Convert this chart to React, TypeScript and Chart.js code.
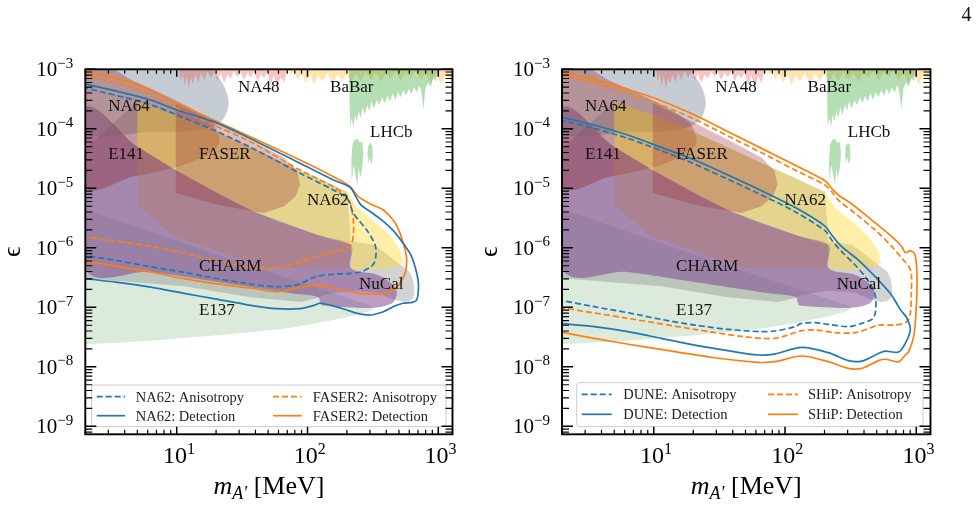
import React, { useEffect, useRef } from 'react';
import { Chart, registerables } from 'chart.js';

Chart.register(...registerables);

type Pt = [number, number];

const SERIF = '"Liberation Serif", "DejaVu Serif", serif';
const BLUE = '#1f77b4';
const ORANGE = '#ff7f0e';

// Axis limits: dark photon mass m_A' [MeV] and kinetic mixing epsilon
const MASS_MIN = 2;
const MASS_MAX = 1284;
const EPS_MIN = 7.35e-10;
const EPS_MAX = 1e-3;
const MASS_DECADES = [1, 2, 3];
const EPS_DECADES = [-9, -8, -7, -6, -5, -4, -3];

// ---- existing exclusion regions [mass MeV, epsilon] ----
const E137_REGION: Pt[] = [
  [1.9, 4.67e-6], [20.5, 7.67e-7], [119, 2.11e-7], [290, 1.1e-7], [323, 1.0e-7], [304, 8.78e-8],
  [214, 7.05e-8], [160, 6.2e-8], [119, 5.45e-8], [66.2, 4.38e-8], [36.8, 3.85e-8], [20.5, 3.38e-8],
  [11.4, 3.05e-8], [6.33, 2.75e-8], [3.5, 2.55e-8], [1.9, 2.38e-8],
];
const NUCAL_REGION: Pt[] = [
  [1.9, 4.18e-5], [5.0, 2.89e-4], [11.4, 1.52e-4], [27.4, 6.57e-5], [66.2, 2.66e-5], [119, 1.49e-5],
  [202, 8.67e-6], [214, 1.285e-6], [323, 1.13e-6], [459, 6.32e-7], [597, 4.02e-7], [633, 3.19e-7],
  [652, 2.4e-7], [656, 1.86e-7], [645, 1.43e-7], [597, 1.26e-7], [547, 1.23e-7], [433, 1.4e-7],
  [342, 1.76e-7], [214, 1.9e-7], [134, 1.63e-7], [119, 1.43e-7], [88.7, 1.23e-7], [36.8, 1.47e-7],
  [11.4, 2.25e-7], [1.9, 3.11e-7],
];
const CHARM_REGION: Pt[] = [
  [1.9, 1.97e-4], [5.0, 5.0e-5], [11.4, 1.69e-5], [36.8, 4.32e-6], [119, 1.66e-6], [214, 1.129e-6],
  [214, 4.58e-7], [342, 3.54e-7], [433, 2.56e-7], [481, 1.86e-7], [459, 1.26e-7], [396, 1.066e-7],
  [287, 9.74e-8], [138, 1.052e-7], [125, 1.213e-7], [115.5, 1.53e-7], [66.2, 1.79e-7], [20.5, 2.66e-7],
  [6.33, 3.92e-7], [1.9, 5.21e-7],
];
const E141_REGION: Pt[] = [
  [1.9, 1.36e-3], [4.72, 6.28e-4], [11.4, 2.54e-4], [18.2, 1.334e-4], [21.1, 7.0e-5], [19.3, 4.46e-5],
  [11.4, 2.5e-5], [4.72, 1.59e-5], [1.9, 1.23e-5],
];
const NA64_REGION: Pt[] = [
  [1.9, 1.36e-3], [13.6, 1.36e-3], [20.5, 7.61e-4], [24.7, 3.29e-4], [23.7, 1.73e-4], [19.9, 1.143e-4],
  [13.6, 9.3e-5], [6.33, 8.84e-5], [1.9, 9.07e-5],
];
const CHARM_HEAVY_REGION: Pt[] = [
  [5.0, 5.0e-5], [11.4, 1.69e-5], [36.8, 4.32e-6], [119, 1.66e-6], [214, 1.129e-6], [214, 4.58e-7],
  [49.3, 4.58e-7], [9.54, 1.56e-6], [5.0, 5.31e-6],
];
const NA62_REGION: Pt[] = [
  [5.0, 2.89e-4], [11.4, 1.52e-4], [27.4, 6.57e-5], [66.2, 2.66e-5], [119, 1.49e-5], [202, 8.67e-6],
  [241, 4.67e-6], [323, 2.79e-6], [433, 1.56e-6], [516, 8.73e-7], [541, 5.55e-7], [459, 4.58e-7],
  [342, 4.29e-7], [220, 4.29e-7], [214, 1.129e-6], [119, 1.66e-6], [36.8, 4.32e-6], [11.4, 1.69e-5],
  [5.0, 5.0e-5],
];
const FASER_REGION: Pt[] = [
  [9.83, 2.71e-4], [20.5, 1.252e-4], [36.8, 6.57e-5], [66.2, 3.31e-5], [83.6, 1.93e-5], [87.7, 1.151e-5],
  [81.2, 7.33e-6], [66.2, 4.98e-6], [46.5, 3.85e-6], [20.5, 5.31e-6], [9.83, 8.34e-6],
];
const NA48_REGION: Pt[] = [
  [10.4, 1.4e-3], [10.4, 1.05e-3], [10.7, 6.28e-4], [11.1, 8.66e-4], [11.5, 5.17e-4], [11.9, 7.9e-4],
  [12.35, 4.73e-4], [12.8, 7.14e-4], [13.3, 5.66e-4], [13.9, 8.34e-4], [14.6, 6.0e-4], [15.3, 8.8e-4],
  [16.2, 6.61e-4], [17.2, 9.24e-4], [18.2, 7.14e-4], [19.5, 9.01e-4], [20.5, 6.44e-4], [21.7, 8.66e-4],
  [23.0, 5.89e-4], [24.4, 8.13e-4], [25.9, 6.96e-4], [27.4, 9.24e-4], [29.1, 7.52e-4], [30.9, 9.01e-4],
  [32.7, 6.61e-4], [34.7, 8.66e-4], [36.8, 7.33e-4], [39.0, 9.24e-4], [41.4, 6.28e-4], [43.9, 8.34e-4],
  [46.5, 7.14e-4], [49.3, 9.01e-4], [52.3, 5.51e-4], [55.5, 8.13e-4], [58.8, 4.73e-4], [62.4, 7.61e-4],
  [66.2, 5.89e-4], [70.2, 1.05e-3], [70.2, 1.4e-3],
];
const BABAR_REGION: Pt[] = [
  [70.2, 1.4e-3], [70.2, 1.05e-3], [74.4, 8.13e-4], [78.9, 9.24e-4], [84.6, 6.6e-4], [89.8, 8.78e-4],
  [96.9, 5.89e-4], [104.5, 8.34e-4], [112.2, 5.51e-4], [120.4, 7.9e-4], [129.9, 6.28e-4], [141.9, 8.78e-4],
  [155, 5.4e-4], [169.2, 8.34e-4], [184.8, 6.44e-4], [201.8, 9.01e-4], [214, 5.89e-4], [233.7, 8.66e-4],
  [255.1, 6.28e-4], [278.6, 9.01e-4], [304.3, 6.61e-4], [332.2, 8.78e-4], [362.7, 6.1e-4], [396.2, 8.5e-4],
  [432.6, 7.14e-4], [472.4, 9.24e-4], [515.8, 6.44e-4], [563.3, 8.78e-4], [615.1, 7.33e-4], [671.7, 9.24e-4],
  [733.6, 6.6e-4], [801.4, 8.78e-4], [874.9, 5.89e-4], [955.3, 8.34e-4], [1043, 5.66e-4], [1139, 7.9e-4],
  [1244, 6.28e-4], [1358, 8.66e-4], [1358, 1.4e-3],
];
const LHCB_REGION: Pt[] = [
  [207.8, 1.4e-3], [207.8, 1.05e-3], [211.5, 1.1e-4], [217.8, 1.52e-4], [224.2, 1.058e-4], [230.9, 1.73e-4],
  [237.8, 1.334e-4], [246.3, 1.97e-4], [255.1, 1.52e-4], [264.3, 2.3e-4], [273.7, 1.73e-4], [287, 2.48e-4],
  [297.2, 2.02e-4], [307.9, 2.89e-4], [322.6, 2.18e-4], [338.1, 3.05e-4], [354.3, 2.48e-4], [371.5, 3.38e-4],
  [389.3, 2.68e-4], [407.9, 3.56e-4], [427.6, 2.89e-4], [448.1, 3.95e-4], [469.6, 3.05e-4], [492.2, 4.15e-4],
  [515.8, 3.38e-4], [540.6, 4.49e-4], [566.6, 3.56e-4], [593.9, 4.73e-4], [622.4, 3.85e-4], [652.3, 4.97e-4],
  [683.8, 4.05e-4], [716.6, 5.37e-4], [742.1, 4.26e-4], [769.1, 2.12e-4], [796.6, 4.73e-4], [834.9, 6.0e-4],
  [874.9, 5.11e-4], [917, 7.14e-4], [961, 6.28e-4], [995.4, 1.05e-3], [995.4, 1.4e-3],
];
const LHCB_ISLAND_A: Pt[] = [
  [217.8, 1.31e-5], [216.5, 2.84e-5], [220.3, 5.41e-5], [229.6, 6.57e-5], [240.6, 6.83e-5], [252.2, 5.77e-5],
  [262.7, 6.16e-5], [267.4, 3.67e-5], [261.2, 2.19e-5], [253.6, 1.49e-5], [246.3, 2.19e-5], [240.6, 1.151e-5],
  [232.3, 1.69e-5], [225.5, 2.5e-5],
];
const LHCB_ISLAND_B: Pt[] = [
  [290.4, 5.07e-5], [300.8, 5.77e-5], [313.3, 5.27e-5], [315.2, 3.23e-5], [307.9, 2.5e-5], [299, 3.23e-5],
  [292.1, 2.66e-5], [287, 3.67e-5],
];

// ---- projected sensitivity contours ----
const NA62_ANISO: Pt[] = [
  [1.9, 4.97e-4], [3.52, 3.6e-4], [6.33, 2.54e-4], [10.0, 1.71e-4], [19.1, 9.55e-5], [36.8, 4.88e-5],
  [87.7, 1.79e-5], [157.7, 9.36e-6], [201.8, 6.7e-6], [224.2, 3.8e-6], [283.6, 1.99e-6], [328, 1.13e-6],
  [334, 7.67e-7], [322.6, 5.55e-7], [300.8, 4.69e-7], [255.1, 3.92e-7], [211.5, 3.72e-7], [169.2, 3.63e-7],
  [117.6, 3.32e-7], [83.6, 2.4e-7], [58.1, 2.22e-7], [36.8, 2.46e-7], [19.1, 3.11e-7], [11.4, 3.87e-7],
  [6.33, 4.82e-7], [3.52, 6.08e-7], [1.9, 7.57e-7],
];
const NA62_DET: Pt[] = [
  [1.9, 5.81e-4], [3.52, 4.26e-4], [6.33, 3.05e-4], [10.0, 2.07e-4], [19.1, 1.32e-4], [36.8, 6.83e-5],
  [87.7, 2.63e-5], [157.7, 1.38e-5], [211.5, 1.04e-5], [233.7, 7.33e-6], [255.1, 5.31e-6], [304.3, 4.0e-6],
  [380, 2.79e-6], [458.7, 1.89e-6], [537.5, 1.2e-6], [615, 7.67e-7], [664, 4.82e-7], [700, 2.91e-7],
  [704, 1.95e-7], [684, 1.34e-7], [633, 1.21e-7], [537.5, 1.17e-7], [458.7, 1.04e-7], [380, 8.45e-8],
  [300.8, 7.43e-8], [240.6, 7.92e-8], [199.4, 9.02e-8], [159.6, 1.05e-7], [124.7, 1.17e-7], [112.2, 1.08e-7],
  [87.7, 9.49e-8], [58.1, 9.49e-8], [36.8, 1.08e-7], [19.1, 1.4e-7], [11.4, 1.72e-7], [6.33, 2.19e-7],
  [3.52, 2.63e-7], [1.9, 3.08e-7],
];
const FASER2_ANISO: Pt[] = [
  [1.9, 8.02e-4], [4.67, 4.85e-4], [10.0, 2.21e-4], [19.1, 1.16e-4], [36.8, 6.0e-5], [87.7, 2.03e-5],
  [157.7, 1.065e-5], [199.4, 7.23e-6], [214, 5.31e-6], [224.2, 2.93e-6], [224.2, 1.66e-6], [216.5, 1.13e-6],
  [199.4, 9.79e-7], [159.6, 8.5e-7], [124.7, 7.57e-7], [87.7, 5.85e-7], [66.15, 4.82e-7], [46, 4.52e-7],
  [36.8, 4.69e-7], [19.1, 6.24e-7], [11.4, 8.18e-7], [6.33, 1.06e-6], [3.52, 1.285e-6], [1.9, 1.54e-6],
];
const FASER2_DET: Pt[] = [
  [1.9, 9.48e-4], [4.67, 5.81e-4], [10.0, 2.68e-4], [19.1, 1.41e-4], [36.4, 7.38e-5], [87.7, 2.99e-5],
  [157.7, 1.57e-5], [211.5, 1.07e-5], [244.8, 7.23e-6], [304.3, 5.45e-6], [380, 4.32e-6], [458.7, 2.79e-6],
  [510, 1.75e-6], [553, 9.93e-7], [573, 6.24e-7], [557, 3.72e-7], [501, 2.4e-7], [453, 1.95e-7],
  [384.7, 1.72e-7], [283.6, 1.67e-7], [211.5, 1.83e-7], [159.6, 2.11e-7], [117.6, 2.37e-7], [83.6, 2.11e-7],
  [58.1, 1.83e-7], [36.8, 2.11e-7], [19.1, 2.53e-7], [11.4, 3.03e-7], [6.33, 3.92e-7], [3.52, 4.88e-7],
  [1.9, 6.08e-7],
];
const DUNE_ANISO: Pt[] = [
  [1.9, 1.41e-4], [3.52, 1.018e-4], [6.33, 6.92e-5], [11.4, 4.29e-5], [20.5, 2.56e-5], [36.8, 1.414e-5],
  [66.2, 7.72e-6], [119, 4.05e-6], [201.8, 1.94e-6], [226.9, 1.352e-6], [270.5, 8.61e-7], [342.1, 5.14e-7],
  [407.9, 3.27e-7], [472.4, 1.95e-7], [492.2, 1.33e-7], [486.4, 7.92e-8], [458.7, 6.28e-8], [384.7, 5.38e-8],
  [304.3, 4.73e-8], [214, 5.18e-8], [169.2, 5.52e-8], [133.8, 5.38e-8], [119, 4.73e-8], [83.6, 4.0e-8],
  [66.2, 3.9e-8], [36.8, 4.26e-8], [20.5, 5.04e-8], [11.4, 6.28e-8], [6.33, 8.13e-8], [3.52, 1.025e-7],
  [1.9, 1.33e-7],
];
const DUNE_DET: Pt[] = [
  [1.9, 1.6e-4], [3.52, 1.158e-4], [6.33, 7.86e-5], [11.4, 4.88e-5], [20.5, 2.99e-5], [36.8, 1.67e-5],
  [66.2, 9.13e-6], [119, 4.79e-6], [201.8, 2.32e-6], [226.9, 1.64e-6], [270.5, 1.045e-6], [362.7, 6.24e-7],
  [486.4, 3.27e-7], [633.4, 1.72e-7], [755.4, 9.24e-8], [849.9, 6.53e-8], [900.9, 4.16e-8], [825.3, 2.48e-8],
  [733.6, 1.77e-8], [580.1, 1.84e-8], [515.8, 1.68e-8], [384.7, 1.25e-8], [304.3, 1.27e-8], [214, 1.73e-8],
  [133.8, 2.12e-8], [83.6, 1.64e-8], [62.4, 1.58e-8], [36.8, 1.87e-8], [20.5, 2.32e-8], [11.4, 3.01e-8],
  [6.33, 3.9e-8], [3.52, 4.73e-8], [1.9, 5.38e-8],
];
const SHIP_ANISO: Pt[] = [
  [1.9, 8.02e-4], [3.52, 5.81e-4], [6.33, 3.95e-4], [11.4, 2.51e-4], [20.5, 1.443e-4], [36.8, 7.57e-5],
  [66.2, 3.97e-5], [119, 2.03e-5], [201.8, 1.136e-5], [226.9, 8.78e-6], [255.1, 6.36e-6], [342.1, 3.8e-6],
  [486.4, 1.99e-6], [652.3, 1.045e-6], [778.2, 6.65e-7], [874.9, 4.94e-7], [917, 3.72e-7], [917, 1.72e-7],
  [900.9, 7.92e-8], [849.9, 5.74e-8], [691.8, 5.04e-8], [515.8, 5.04e-8], [432.6, 4.38e-8], [342.1, 3.75e-8],
  [240.6, 3.75e-8], [169.2, 4.16e-8], [133.8, 4.05e-8], [83.6, 3.01e-8], [49.3, 3.21e-8], [20.5, 4.26e-8],
  [6.33, 6.53e-8], [1.9, 9.99e-8],
];
const SHIP_DET: Pt[] = [
  [1.9, 9.48e-4], [3.52, 6.78e-4], [6.33, 4.61e-4], [11.4, 2.97e-4], [20.5, 1.706e-4], [36.8, 8.95e-5],
  [66.2, 4.69e-5], [119, 2.46e-5], [201.8, 1.344e-5], [226.9, 9.99e-6], [255.1, 7.72e-6], [322.6, 5.45e-6],
  [458.7, 2.93e-6], [652.3, 1.54e-6], [778.2, 1.045e-6], [825.3, 8.28e-7], [900.9, 8.95e-7], [972.3, 7.87e-7],
  [1007, 4.82e-7], [1013, 2.22e-7], [995.4, 7.92e-8], [955.3, 3.21e-8], [874.9, 1.8e-8], [825.3, 1.58e-8],
  [733.6, 1.22e-8], [580.1, 1.34e-8], [515.8, 1.27e-8], [384.7, 9.43e-9], [304.3, 9.43e-9], [214, 1.22e-8],
  [133.8, 1.52e-8], [83.6, 1.22e-8], [62.4, 1.19e-8], [29.1, 1.42e-8], [9.0, 2.12e-8], [3.52, 3.01e-8],
  [1.9, 3.9e-8],
];

// Region names and where their labels sit [mass, epsilon]
const REGION_LABELS: { text: string; at: Pt }[] = [
  { text: 'NA64', at: [2.99, 2.35e-4] },
  { text: 'NA48', at: [29.4, 4.85e-4] },
  { text: 'BaBar', at: [148.7, 4.85e-4] },
  { text: 'LHCb', at: [300.8, 8.6e-5] },
  { text: 'E141', at: [2.99, 3.63e-5] },
  { text: 'FASER', at: [14.8, 3.63e-5] },
  { text: 'NA62', at: [99.2, 6.12e-6] },
  { text: 'CHARM', at: [14.8, 4.94e-7] },
  { text: 'NuCal', at: [247.7, 2.46e-7] },
  { text: 'E137', at: [14.8, 8.78e-8] },
];

const LHCB_COLOR = 'rgba(44,160,44,0.35)';
const REGIONS = [
  { name: 'E137', pts: E137_REGION, color: 'rgba(60,140,60,0.18)', smooth: false },
  { name: 'NuCal', pts: NUCAL_REGION, color: 'rgba(128,128,128,0.35)', smooth: false },
  { name: 'CHARM', pts: CHARM_REGION, color: 'rgba(120,60,140,0.5)', smooth: true },
  { name: 'NA64', pts: NA64_REGION, color: 'rgba(112,128,144,0.4)', smooth: true },
  { name: 'E141', pts: E141_REGION, color: 'rgba(140,20,20,0.3)', smooth: true },
  { name: 'CHARM (heavy)', pts: CHARM_HEAVY_REGION, color: 'rgba(185,120,80,0.3)', smooth: false },
  { name: 'NA62', pts: NA62_REGION, color: 'rgba(255,212,35,0.4)', smooth: false },
  { name: 'FASER', pts: FASER_REGION, color: 'rgba(150,40,50,0.3)', smooth: false },
  { name: 'NA48', pts: NA48_REGION, color: 'rgba(240,60,60,0.3)', smooth: false },
  { name: 'BaBar', pts: BABAR_REGION, color: 'rgba(255,165,0,0.3)', smooth: false },
  { name: 'LHCb', pts: LHCB_REGION, color: LHCB_COLOR, smooth: false },
  { name: 'LHCb', pts: LHCB_ISLAND_A, color: LHCB_COLOR, smooth: false },
  { name: 'LHCb', pts: LHCB_ISLAND_B, color: LHCB_COLOR, smooth: false },
];

type Curve = { label: string; pts: Pt[]; color: string; dashed: boolean };

type PanelCfg = {
  left: number;
  width: number;
  area: { left: number; right: number };
  curves: Curve[];
  legend: { box: number[]; rows: number[]; cols: { h: number[]; tx: number }[] };
};

const PANELS: PanelCfg[] = [
  {
    left: 0,
    width: 476,
    area: { left: 85.3, right: 452.5 },
    curves: [
      { label: 'NA62: Anisotropy', pts: NA62_ANISO, color: BLUE, dashed: true },
      { label: 'NA62: Detection', pts: NA62_DET, color: BLUE, dashed: false },
      { label: 'FASER2: Anisotropy', pts: FASER2_ANISO, color: ORANGE, dashed: true },
      { label: 'FASER2: Detection', pts: FASER2_DET, color: ORANGE, dashed: false },
    ],
    legend: {
      box: [91.7, 385, 446, 426.7],
      rows: [396.7, 415.7],
      cols: [{ h: [96.7, 125], tx: 135.7 }, { h: [273, 301.7], tx: 312.7 }],
    },
  },
  {
    left: 476,
    width: 503,
    area: { left: 562, right: 930.5 },
    curves: [
      { label: 'DUNE: Anisotropy', pts: DUNE_ANISO, color: BLUE, dashed: true },
      { label: 'DUNE: Detection', pts: DUNE_DET, color: BLUE, dashed: false },
      { label: 'SHiP: Anisotropy', pts: SHIP_ANISO, color: ORANGE, dashed: true },
      { label: 'SHiP: Detection', pts: SHIP_DET, color: ORANGE, dashed: false },
    ],
    legend: {
      box: [576.7, 382.7, 923, 426.7],
      rows: [394.3, 414.3],
      cols: [{ h: [581.7, 611.7], tx: 623.3 }, { h: [768, 798], tx: 808 }],
    },
  },
];

const AREA_TOP = 69.3;
const AREA_BOTTOM = 434.3;
const CANVAS_H = 509;
const DASH = [6, 3];

function smoothClosed(ctx: CanvasRenderingContext2D, p: number[][]) {
  const n = p.length;
  ctx.moveTo(p[0][0], p[0][1]);
  for (let i = 0; i < n; i++) {
    const p0 = p[(i - 1 + n) % n], p1 = p[i], p2 = p[(i + 1) % n], p3 = p[(i + 2) % n];
    ctx.bezierCurveTo(
      p1[0] + (p2[0] - p0[0]) / 6, p1[1] + (p2[1] - p0[1]) / 6,
      p2[0] - (p3[0] - p1[0]) / 6, p2[1] - (p3[1] - p1[1]) / 6,
      p2[0], p2[1],
    );
  }
  ctx.closePath();
}

function makeDecor(panel: PanelCfg) {
  const off = panel.left;
  return {
    id: 'panelDecor',
    beforeDatasetsDraw(chart: any) {
      const { ctx, chartArea: a, scales } = chart;
      const xs = scales.x, ys = scales.y;
      ctx.save();
      ctx.beginPath();
      ctx.rect(a.left, a.top, a.right - a.left, a.bottom - a.top);
      ctx.clip();
      chart.data.datasets.forEach((ds: any) => {
        if (!ds.regionFill) return;
        const px = ds.data.map((d: any) => [xs.getPixelForValue(d.x), ys.getPixelForValue(d.y)]);
        ctx.beginPath();
        if (ds.smooth) smoothClosed(ctx, px);
        else {
          px.forEach((p: number[], i: number) => (i ? ctx.lineTo(p[0], p[1]) : ctx.moveTo(p[0], p[1])));
          ctx.closePath();
        }
        ctx.fillStyle = ds.backgroundColor;
        ctx.fill();
      });
      ctx.restore();
    },
    afterDatasetsDraw(chart: any) {
      const { ctx, chartArea: a, scales } = chart;
      const xs = scales.x, ys = scales.y;
      ctx.save();

      // region labels
      ctx.font = `17px ${SERIF}`;
      ctx.fillStyle = '#111';
      ctx.textBaseline = 'middle';
      ctx.textAlign = 'left';
      REGION_LABELS.forEach((l) => {
        ctx.fillText(l.text, xs.getPixelForValue(l.at[0]), ys.getPixelForValue(l.at[1]));
      });

      // legend
      const lg = panel.legend;
      const [bx1, by1, bx2, by2] = lg.box;
      ctx.beginPath();
      ctx.roundRect(bx1 - off, by1, bx2 - bx1, by2 - by1, 3);
      ctx.fillStyle = 'rgba(255,255,255,0.8)';
      ctx.fill();
      ctx.strokeStyle = '#cccccc';
      ctx.lineWidth = 1;
      ctx.stroke();
      const lines = chart.data.datasets.filter((d: any) => d.showLine);
      ctx.font = `14.5px ${SERIF}`;
      ctx.fillStyle = '#222';
      lines.forEach((d: any, i: number) => {
        const col = lg.cols[Math.floor(i / 2)];
        const ry = lg.rows[i % 2];
        ctx.beginPath();
        ctx.setLineDash(d.borderDash || []);
        ctx.strokeStyle = d.borderColor;
        ctx.lineWidth = 1.7;
        ctx.moveTo(col.h[0] - off, ry);
        ctx.lineTo(col.h[1] - off, ry);
        ctx.stroke();
        ctx.setLineDash([]);
        ctx.fillText(d.label, col.tx - off, ry + 1);
      });

      // ticks (inward, on all four sides)
      ctx.strokeStyle = '#000';
      for (let e = -10; e <= -3; e++) {
        for (let k = 1; k <= 9; k++) {
          const v = k * Math.pow(10, e);
          if (v < EPS_MIN || v > EPS_MAX * 1.0001) continue;
          const py = ys.getPixelForValue(v);
          const len = k === 1 ? 11 : 7;
          ctx.lineWidth = k === 1 ? 1.5 : 1.2;
          ctx.beginPath();
          ctx.moveTo(a.left, py); ctx.lineTo(a.left + len, py);
          ctx.moveTo(a.right, py); ctx.lineTo(a.right - len, py);
          ctx.stroke();
        }
      }
      for (let e = 0; e <= 3; e++) {
        for (let k = 1; k <= 9; k++) {
          const v = k * Math.pow(10, e);
          if (v < MASS_MIN || v > MASS_MAX) continue;
          const px = xs.getPixelForValue(v);
          const len = k === 1 ? 7.5 : 4.5;
          ctx.lineWidth = k === 1 ? 1.5 : 1.2;
          ctx.beginPath();
          ctx.moveTo(px, a.bottom); ctx.lineTo(px, a.bottom - len);
          ctx.moveTo(px, a.top); ctx.lineTo(px, a.top + len);
          ctx.stroke();
        }
      }

      // frame
      ctx.lineWidth = 1.9;
      ctx.strokeRect(a.left, a.top, a.right - a.left, a.bottom - a.top);

      // tick labels
      ctx.fillStyle = '#000';
      ctx.textBaseline = 'alphabetic';
      EPS_DECADES.forEach((e) => {
        const py = ys.getPixelForValue(Math.pow(10, e));
        const sup = '\u2212' + Math.abs(e);
        ctx.font = `15px ${SERIF}`;
        const ws = ctx.measureText(sup).width;
        ctx.font = `21px ${SERIF}`;
        const wb = ctx.measureText('10').width;
        const right = a.left - 12;
        ctx.fillText('10', right - ws - wb, py + 7);
        ctx.font = `15px ${SERIF}`;
        ctx.fillText(sup, right - ws, py - 1.5);
      });
      MASS_DECADES.forEach((e) => {
        const px = xs.getPixelForValue(Math.pow(10, e));
        ctx.font = `24px ${SERIF}`;
        const wb = ctx.measureText('10').width;
        const start = px - wb / 2 - 1.7;
        ctx.fillText('10', start, a.bottom + 29);
        ctx.font = `16px ${SERIF}`;
        ctx.fillText(String(e), start + wb, a.bottom + 20);
      });

      // x-axis title: m_{A'} [MeV]
      const cx = (a.left + a.right) / 2;
      ctx.font = `italic 26px ${SERIF}`;
      const wm = ctx.measureText('m').width;
      ctx.font = `italic 18px ${SERIF}`;
      const wsub = ctx.measureText('A\u2032').width;
      ctx.font = `26px ${SERIF}`;
      const wu = ctx.measureText(' [MeV]').width;
      let x0 = cx - (wm + wsub + wu) / 2;
      ctx.font = `italic 26px ${SERIF}`;
      ctx.fillText('m', x0, 494);
      x0 += wm;
      ctx.font = `italic 18px ${SERIF}`;
      ctx.fillText('A\u2032', x0, 499);
      x0 += wsub;
      ctx.font = `26px ${SERIF}`;
      ctx.fillText(' [MeV]', x0, 494);

      // y-axis title: epsilon
      ctx.save();
      ctx.translate(a.left - 72, (a.top + a.bottom) / 2);
      ctx.rotate(-Math.PI / 2);
      ctx.font = `26px ${SERIF}`;
      ctx.textAlign = 'center';
      ctx.textBaseline = 'middle';
      ctx.fillText('\u03f5', 0, 0);
      ctx.restore();

      ctx.restore();
    },
  };
}

function Panel({ panel }: { panel: PanelCfg }) {
  const ref = useRef<HTMLCanvasElement>(null);
  useEffect(() => {
    const canvas = ref.current;
    if (!canvas) return;
    const toXY = (pts: Pt[]) => pts.map(([x, y]) => ({ x, y }));
    const regionSets = REGIONS.map((r) => ({
      label: r.name,
      data: toXY(r.pts),
      showLine: false,
      pointRadius: 0,
      pointHoverRadius: 0,
      backgroundColor: r.color,
      regionFill: true,
      smooth: r.smooth,
    }));
    const curveSets = panel.curves.map((c) => ({
      label: c.label,
      data: toXY(c.pts),
      showLine: true,
      borderColor: c.color,
      backgroundColor: c.color,
      borderWidth: 1.7,
      borderDash: c.dashed ? DASH : [],
      pointRadius: 0,
      pointHoverRadius: 0,
      tension: 0.3,
      fill: false,
    }));
    const chart = new Chart(canvas, {
      type: 'scatter',
      data: { datasets: [...regionSets, ...curveSets] as any },
      options: {
        responsive: false,
        animation: false,
        devicePixelRatio: 1,
        events: [],
        layout: {
          padding: {
            left: panel.area.left - panel.left,
            right: panel.width - (panel.area.right - panel.left),
            top: AREA_TOP,
            bottom: CANVAS_H - AREA_BOTTOM,
          },
        },
        plugins: { legend: { display: false }, tooltip: { enabled: false } },
        scales: {
          x: { type: 'logarithmic', min: MASS_MIN, max: MASS_MAX, bounds: 'data', display: false },
          y: { type: 'logarithmic', min: EPS_MIN, max: EPS_MAX, bounds: 'data', display: false },
        },
      } as any,
      plugins: [makeDecor(panel)],
    });
    return () => chart.destroy();
  }, [panel]);
  return (
    <canvas
      ref={ref}
      width={panel.width}
      height={CANVAS_H}
      style={{ position: 'absolute', left: panel.left, top: 0, width: panel.width, height: CANVAS_H }}
    />
  );
}

export default function App() {
  return (
    <div style={{ position: 'absolute', left: 0, top: 0, width: 979, height: 509, background: '#fff', overflow: 'hidden' }}>
      {PANELS.map((p, i) => (
        <Panel key={i} panel={p} />
      ))}
      <div
        style={{
          position: 'absolute', left: 961.5, top: 4, fontFamily: SERIF, fontSize: 20, lineHeight: '20px', color: '#111',
        }}
      >
        4
      </div>
    </div>
  );
}
